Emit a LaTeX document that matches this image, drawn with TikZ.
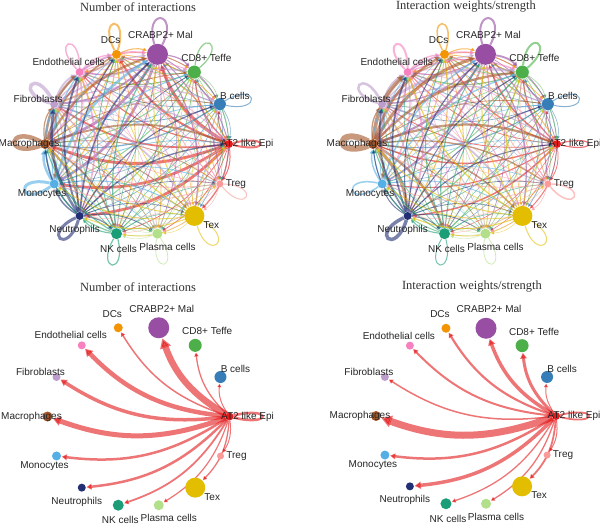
\documentclass[tikz,border=0pt]{standalone}
\usepackage{fontspec}
\setmainfont{Liberation Serif}
\setsansfont{Liberation Sans}
\usetikzlibrary{arrows.meta,backgrounds}
\definecolor{c0}{HTML}{E41A1C}
\definecolor{c1}{HTML}{377EB8}
\definecolor{c2}{HTML}{4DAF4A}
\definecolor{c3}{HTML}{984EA3}
\definecolor{c4}{HTML}{F29403}
\definecolor{c5}{HTML}{F781BF}
\definecolor{c6}{HTML}{BC9DCC}
\definecolor{c7}{HTML}{A65628}
\definecolor{c8}{HTML}{54B0E4}
\definecolor{c9}{HTML}{222F75}
\definecolor{c10}{HTML}{1B9E77}
\definecolor{c11}{HTML}{B2DF8A}
\definecolor{c12}{HTML}{E3BE00}
\definecolor{c13}{HTML}{FB9A99}
\tikzset{
  cell/.style={circle, inner sep=0pt, draw=none},
  lab/.style={font=\fontsize{10}{10}\selectfont\sffamily, inner sep=0pt, text=black!85},
  ttl/.style={font=\fontsize{12.5}{13}\selectfont, inner sep=0pt, text=black!80},
  lnk/.style={draw opacity=0.6, fill opacity=0.75, -{Triangle[length=2.5pt 1.1, width=2.5pt 1.3]}, shorten >=0.5pt},
  loopl/.style={draw opacity=0.6},
}
\def\celldata{0/AT2 like Epi/4/18/0, 1/B cells/6/15/8, 2/CD8+ Teffe/6.5/12/14, 3/CRABP2+ Mal/10.5/3/19, 4/DCs/4.5/-6/14, 5/Endothelial cells/4/-11/10, 6/Fibroblasts/4/-16/5, 7/Macrophages/5/-16/0, 8/Monocytes/4.5/-12/-10, 9/Neutrophils/4/-5/-14, 10/NK cells/5.5/2/-15, 11/Plasma cells/5/10/-13, 12/Tex/10/17/-9, 13/Treg/3.5/16/0}
\def\lpang{{0,10,62,85,95,112,140,176,192,229,262,282,308,334}}
\def\lpspr{{14,22,22,22,22,22,24,24,24,24,22,22,22,24}}
\newcommand\mkcells[4]{%
  \begin{scope}[shift={(#2,#3)}]
  \foreach \k/\lab/\rad/\dx/\dy in \celldata {
    \node[cell, fill=c\k, minimum size=2*\rad pt] (#1\k) at (\k*360/14:#4) {};
  }
  \end{scope}
  \foreach \k/\lab/\rad/\dx/\dy in \celldata {
    \node[lab] (#1L\k) at ([shift={(\dx,\dy)}]#1\k.center) {\lab};
  }
}
\newcommand\fulledges[3]{%
  \foreach \i in {0,...,13}{
    \foreach \j in {0,...,13}{
      \ifnum\i=\j\relax\else
        \pgfmathsetmacro\w{0.3+0.45*(#2[\i]*#3[\j])^2*(0.5+mod(7*\i+11*\j,5)/4)}
        \draw[lnk, draw=c\i, line width=\w pt] (#1\i) to[bend left=20] (#1\j);
      \fi
    }
  }
}
\newcommand\selfloops[2]{%
  \foreach \k in {0,...,13}{
    \pgfmathsetmacro\a{\lpang[\k]}
    \pgfmathsetmacro\s{\lpspr[\k]}
    \pgfmathsetmacro\w{#2[\k]}
    \draw[loopl, draw=c\k, line width=\w pt] (#1\k) to[out=\a+\s,in=\a-\s,looseness=1,min distance=38pt] (#1\k);
  }
}
\newcommand\staredges[2]{%
  \foreach \j in {1,...,13}{
    \pgfmathsetmacro\w{#2[\j]}
    \draw[lnk, draw=c0, line width=\w pt] (#10) to[bend left=20] (#1\j);
  }
  \pgfmathsetmacro\w{#2[0]}
  \draw[loopl, draw=c0, line width=\w pt] (#10) to[out=14,in=-14,looseness=1,min distance=40pt] (#10);
}
\def\wsA{{1.6,0.8,0.9,1.4,1.1,1.2,1.6,1.5,1.3,1.4,0.9,0.6,0.9,0.7}}
\def\wtA{{1.0,0.8,0.9,1.4,1.0,1.2,1.3,1.5,1.3,1.2,0.9,0.7,0.9,0.7}}
\def\wsB{{1.1,0.8,1.0,1.3,1.1,1.2,1.5,1.9,1.0,1.3,0.9,0.6,1.0,0.7}}
\def\wtB{{0.9,0.8,1.3,1.3,1.0,1.2,1.1,1.4,1.1,1.2,0.9,0.7,1.0,0.8}}
\def\lpA{{2,1,1.2,2,2,1.5,3.5,4.5,3,3,1.2,0.8,1,1}}
\def\lpB{{1.2,1,2,2,1.5,2,2.5,6,1.5,3.5,1,0.8,1,1.5}}
\def\stA{{2.5,1,1.3,6.5,1.5,4.5,3.5,5,2.5,2.5,1.8,1.2,1.3,1}}
\def\stB{{1.8,1,3,3.5,2.2,2,1.5,7,2.5,3.5,1.3,1.3,1.8,1}}
\begin{document}
\begin{tikzpicture}[x=1pt,y=1pt]
\useasboundingbox (0,0) rectangle (600,528);
% titles
\node[ttl] (t1) at (138,521) {Number of interactions};
\node[ttl] (t2) at (466,521) {Interaction weights/strength};
\node[ttl] (t3) at (138,241) {Number of interactions};
\node[ttl] (t4) at (472,241) {Interaction weights/strength};
% cells
\mkcells{TL}{137}{384}{92}
\mkcells{TR}{465}{384}{92}
\mkcells{BL}{138.5}{111.5}{91}
\mkcells{BR}{466}{112}{90}
\begin{pgfonlayer}{background}
\fill[white] (0,0) rectangle (600,528);
\selfloops{TL}{\lpA}
\fulledges{TL}{\wsA}{\wtA}
\selfloops{TR}{\lpB}
\fulledges{TR}{\wsB}{\wtB}
\staredges{BL}{\stA}
\staredges{BR}{\stB}
\end{pgfonlayer}
\end{tikzpicture}
\end{document}
